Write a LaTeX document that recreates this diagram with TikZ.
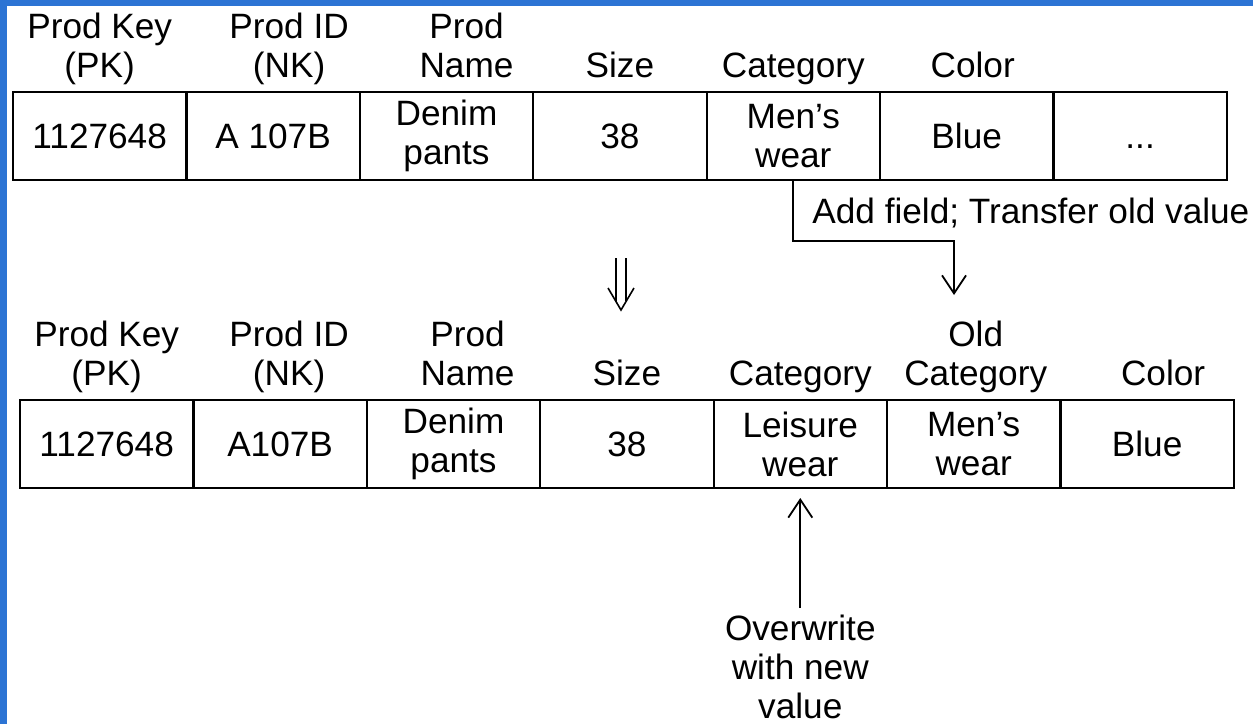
\documentclass[tikz,border=0pt]{standalone}
\usepackage{fontspec}
\setmainfont{Liberation Sans}
\usetikzlibrary{positioning, arrows.meta}
\definecolor{frameBlue}{HTML}{2C74D4}
\newcommand{\cellfont}{\fontsize{17.6}{19.5}\selectfont}

\tikzset{
  cell/.style={draw, line width=1.1pt, minimum width=86.7pt, minimum height=44pt,
    inner sep=0pt, outer sep=0pt, align=center},
  colhead/.style={align=center, inner sep=0pt, text depth=5pt},
  link/.style={line width=0.9pt, -{Straight Barb[length=9pt, width=12pt]}}
}

\begin{document}
\begin{tikzpicture}[x=0.5pt, y=-0.5pt, font=\cellfont]
    \useasboundingbox (0,0) rectangle (1253,724);
    \fill[white] (0,0) rectangle (1253,724);
    \fill[frameBlue] (0,0) rectangle (7,724);
    \fill[frameBlue] (0,0) rectangle (1253,6);

    % row before the change
    \node[cell, anchor=north west] (tkey) at (13,92) {1127648};
    \node[cell, right=0pt of tkey] (tid) {A 107B};
    \node[cell, right=0pt of tid] (tname) {Denim\\pants};
    \node[cell, right=0pt of tname] (tsize) {38};
    \node[cell, right=0pt of tsize] (tcat) {Men’s\\wear};
    \node[cell, right=0pt of tcat] (tcolor) {Blue};
    \node[cell, right=0pt of tcolor] (tmore) {\vphantom{1}...};

    \node[colhead, above=2pt of tkey] (hkey) {Prod Key\\(PK)};
    \node[colhead, above=2pt of tid, xshift=8pt] (hid) {Prod ID\\(NK)};
    \node[colhead, above=2pt of tname, xshift=10pt] (hname) {Prod\\Name};
    \node[colhead, above=2pt of tsize] (hsize) {Size};
    \node[colhead, above=2pt of tcat] (hcat) {Category};
    \node[colhead, above=2pt of tcolor, xshift=3pt] (hcolor) {Color};

    % row after the change
    \node[cell, anchor=north west] (lkey) at (20,400) {1127648};
    \node[cell, right=0pt of lkey] (lid) {A107B};
    \node[cell, right=0pt of lid] (lname) {Denim\\pants};
    \node[cell, right=0pt of lname] (lsize) {38};
    \node[cell, right=0pt of lsize] (lcat) {Leisure\\wear};
    \node[cell, right=0pt of lcat] (lold) {Men’s\\wear};
    \node[cell, right=0pt of lold] (lcolor) {Blue};

    \node[colhead, above=2pt of lkey] (gkey) {Prod Key\\(PK)};
    \node[colhead, above=2pt of lid, xshift=4.5pt] (gid) {Prod ID\\(NK)};
    \node[colhead, above=2pt of lname, xshift=7pt] (gname) {Prod\\Name};
    \node[colhead, above=2pt of lsize] (gsize) {Size};
    \node[colhead, above=2pt of lcat] (gcat) {Category};
    \node[colhead, above=2pt of lold, xshift=1pt] (gold) {Old\\Category};
    \node[colhead, above=2pt of lcolor, xshift=8pt] (gcolor) {Color};

    % old value moved into the new field
    \coordinate (turn) at (954,241);
    \coordinate (oldtip) at (954,295);
    \draw[link] (tcat.south) |- (turn) -- (oldtip);
    \node[anchor=base west, inner sep=0pt] (addnote) at (812,223) {Add field; Transfer old value};

    % big down arrow between the rows
    \draw[line width=0.8pt] (616,258) -- (616,301) (626,258) -- (626,301);
    \draw[line width=0.8pt, line join=miter] (608,288) -- (621,310) -- (634,288);

    % new value written over
    \node[align=center, inner sep=0pt, below=63.5pt of lcat] (overnote) {Overwrite\\with new\\value};
    \draw[link, shorten <=3.5pt, shorten >=5pt] (overnote) -- (lcat);
\end{tikzpicture}
\end{document}
